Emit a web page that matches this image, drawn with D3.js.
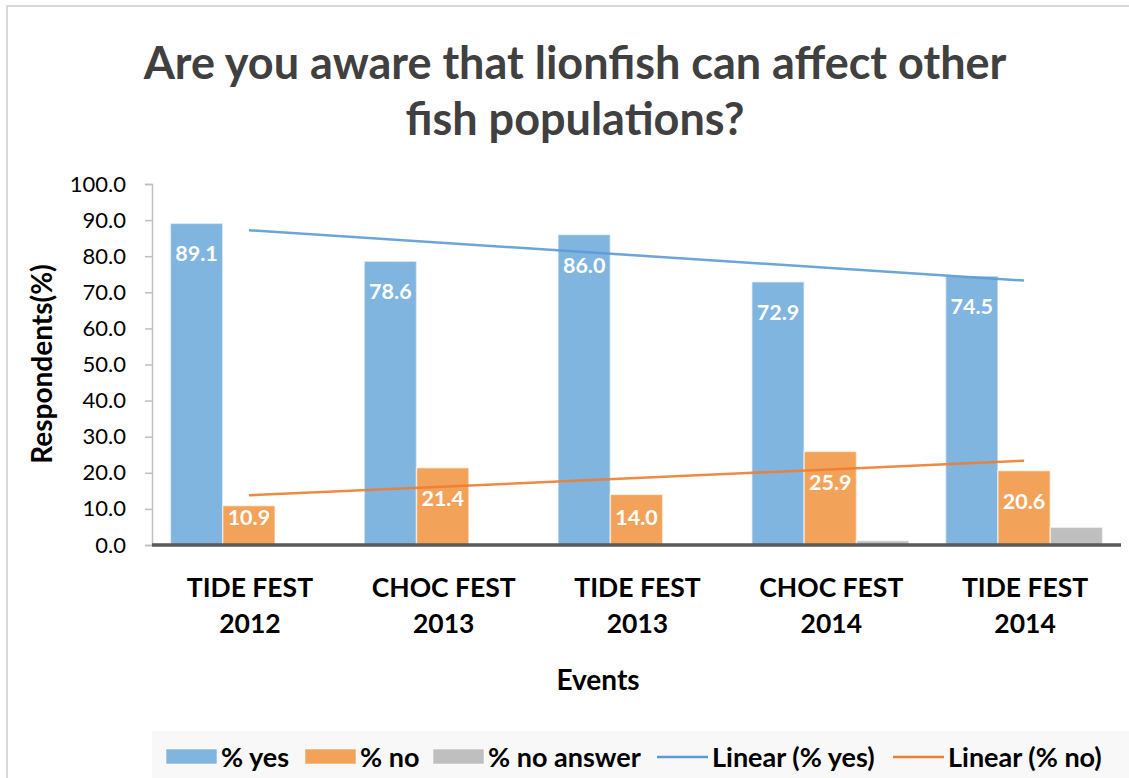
<!DOCTYPE html>
<html>
<head>
<meta charset="utf-8">
<script src="https://cdn.jsdelivr.net/npm/d3@7"></script>
<style>
  html, body { margin: 0; padding: 0; background: #ffffff; }
  svg { display: block; }
  text { font-family: Lato, "Open Sans", sans-serif; }
</style>
</head>
<body>
<script>
// ---- data ----
const categories = [["TIDE FEST", "2012"], ["CHOC FEST", "2013"], ["TIDE FEST", "2013"], ["CHOC FEST", "2014"], ["TIDE FEST", "2014"]];
const seriesNames = ["% yes", "% no", "% no answer"];
const yesValues = [89.1, 78.6, 86.0, 72.9, 74.5];
const noValues = [10.9, 21.4, 14.0, 25.9, 20.6];
const noAnswerValues = [0, 0, 0, 1.2, 4.9];
const yTicks = [0, 10, 20, 30, 40, 50, 60, 70, 80, 90, 100];
const titleLines = ["Are you aware that lionfish can affect other", "fish populations?"];
const legendLabels = ["% yes", "% no", "% no answer", "Linear (% yes)", "Linear (% no)"];

const W = 1129, H = 778;
const colors = ["#80b5df", "#f3a25a", "#bfbfbf"];
const plot = { left: 152, right: 1121, top: 184, bottom: 545 };

const svg = d3.select("body").append("svg").attr("width", W).attr("height", H);

// frame
svg.append("rect").attr("x", 7).attr("y", 6).attr("width", W + 20).attr("height", H + 20)
  .attr("fill", "#fff").attr("stroke", "#d9d9d9").attr("stroke-width", 2);

// title
svg.append("g").selectAll("text").data(titleLines).join("text")
  .attr("x", 575).attr("y", (d, i) => 79 + i * 56)
  .attr("text-anchor", "middle").attr("font-weight", 700).attr("font-size", 45)
  .attr("fill", "#404040").text(d => d);

const x0 = d3.scaleBand().domain(d3.range(categories.length)).range([plot.left, plot.right])
  .paddingInner(0.19).paddingOuter(0.095);
const x1 = d3.scaleBand().domain(d3.range(3)).range([0, x0.bandwidth()]);
const y = d3.scaleLinear().domain([0, 100]).range([plot.bottom, plot.top]);

// y axis
const yAxis = svg.append("g").attr("transform", `translate(${plot.left},0)`)
  .call(d3.axisLeft(y).tickValues(yTicks).tickFormat(d3.format(".1f")).tickSize(7).tickPadding(19));
yAxis.select(".domain").attr("stroke", "#bfbfbf").attr("stroke-width", 1.5);
yAxis.selectAll(".tick line").attr("stroke", "#bfbfbf").attr("stroke-width", 1.5);
yAxis.selectAll(".tick text").attr("font-size", 22).attr("fill", "#000").attr("font-family", "Lato, sans-serif");

// bars
const series = [yesValues, noValues, noAnswerValues];
const barData = [];
series.forEach((vals, s) => vals.forEach((v, i) => barData.push({ s, i, v })));
svg.append("g").selectAll("rect").data(barData.filter(d => d.v > 0)).join("rect")
  .attr("x", d => x0(d.i) + x1(d.s))
  .attr("y", d => y(d.v))
  .attr("width", x1.bandwidth())
  .attr("height", d => y(0) - y(d.v))
  .attr("fill", d => colors[d.s])
  .attr("stroke", "rgba(255,255,255,0.55)").attr("stroke-width", 1.5);

// baseline
svg.append("line").attr("x1", plot.left).attr("x2", plot.right).attr("y1", y(0)).attr("y2", y(0))
  .attr("stroke", "#595959").attr("stroke-width", 3.5);

// data labels (yes, no)
svg.append("g").selectAll("text").data(barData.filter(d => d.s < 2)).join("text")
  .attr("x", d => x0(d.i) + x1(d.s) + x1.bandwidth() / 2)
  .attr("y", d => Math.min(y(d.v) + 38, y(0) - 20))
  .attr("text-anchor", "middle").attr("font-weight", 700).attr("font-size", 21.5)
  .attr("fill", "#fff").text(d => d.v.toFixed(1));

// linear trend lines (least squares)
function trend(vals) {
  const n = vals.length, xs = d3.range(1, n + 1);
  const mx = d3.mean(xs), my = d3.mean(vals);
  const b = d3.sum(xs, (xx, k) => (xx - mx) * (vals[k] - my)) / d3.sum(xs, xx => (xx - mx) ** 2);
  const a = my - b * mx;
  return [[0, a + b], [n - 1, a + b * n]];
}
const cx = i => x0(i) + x0.bandwidth() / 2;
[[yesValues, "#5b9bd5"], [noValues, "#ed7d31"]].forEach(([vals, c]) => {
  svg.append("path").datum(trend(vals))
    .attr("d", d3.line().x(d => cx(d[0])).y(d => y(d[1])))
    .attr("fill", "none").attr("stroke", c).attr("stroke-width", 2.5).attr("opacity", 0.9);
});

// x category labels
const xl = svg.append("g").selectAll("text").data(categories).join("text")
  .attr("text-anchor", "middle").attr("font-weight", 700).attr("font-size", 26.5).attr("fill", "#000");
xl.selectAll("tspan").data((d, i) => d.map(t => ({ t, i }))).join("tspan")
  .attr("x", d => cx(d.i) + 1).attr("y", (d, k) => 597 + k * 36).text(d => d.t);

// axis titles
svg.append("text").attr("x", 598).attr("y", 690).attr("text-anchor", "middle")
  .attr("font-weight", 700).attr("font-size", 28).attr("fill", "#000").text("Events");
svg.append("text").attr("transform", "translate(52,364) rotate(-90)").attr("text-anchor", "middle")
  .attr("font-weight", 700).attr("font-size", 28).attr("fill", "#000").text("Respondents(%)");

// legend
svg.append("rect").attr("x", 152).attr("y", 731).attr("width", W - 152).attr("height", H - 731)
  .attr("fill", "#f8f8f8");
const legendX = [166, 305, 433, 657, 893];
const lg = svg.append("g").selectAll("g").data(legendLabels).join("g")
  .attr("transform", (d, i) => `translate(${legendX[i]},0)`);
lg.each(function (d, i) {
  const g = d3.select(this);
  if (i < 3) {
    g.append("rect").attr("x", 0).attr("y", 749).attr("width", 51).attr("height", 15)
      .attr("fill", colors[i]).attr("stroke", "rgba(255,255,255,0.55)");
  } else {
    g.append("line").attr("x1", 0).attr("x2", 51).attr("y1", 757).attr("y2", 757)
      .attr("stroke", i === 3 ? "#5b9bd5" : "#ed7d31").attr("stroke-width", 2.5);
  }
  g.append("text").attr("x", 55).attr("y", 767).attr("font-weight", 700).attr("font-size", 27)
    .attr("fill", "#000").text(d);
});
</script>
</body>
</html>
